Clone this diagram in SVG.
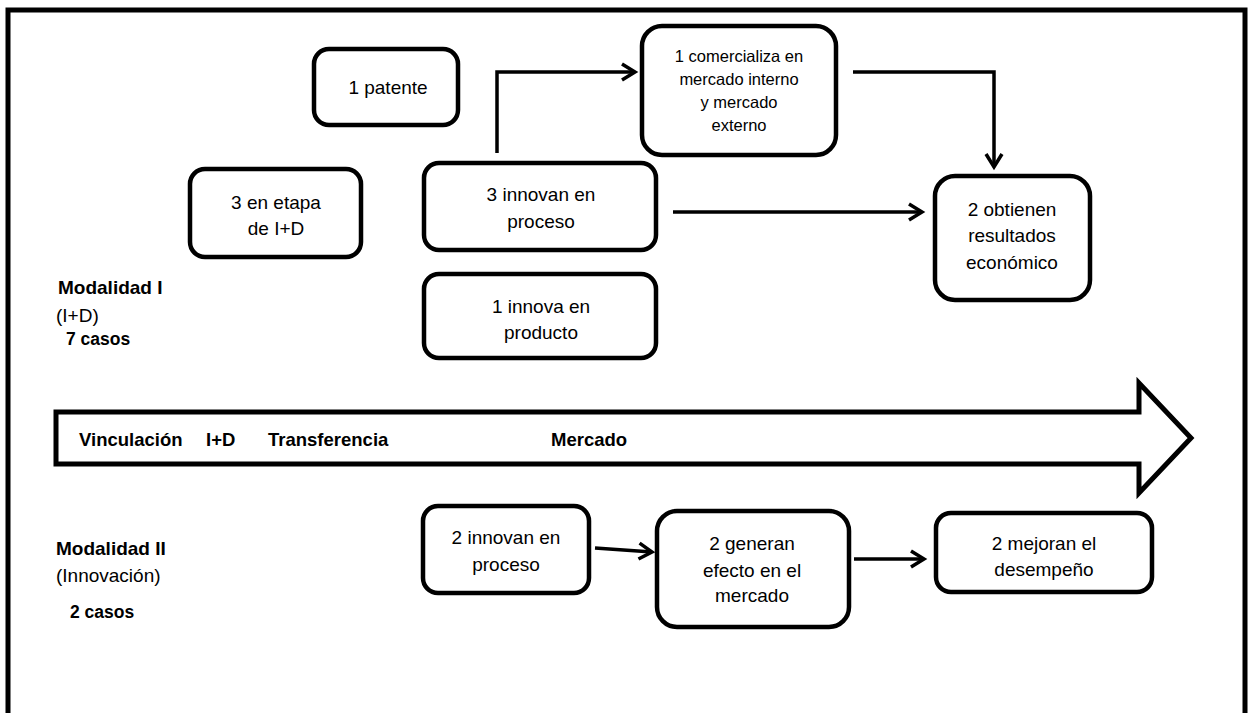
<svg xmlns="http://www.w3.org/2000/svg" width="1250" height="713" viewBox="0 0 1250 713">
<defs>
<marker id="ah" markerWidth="20" markerHeight="20" refX="16" refY="10" orient="auto" markerUnits="userSpaceOnUse">
<path d="M3,2 L16,10 L3,18" fill="none" stroke="#000" stroke-width="3.5"/>
</marker>
<style>
.box{fill:#fff;stroke:#000;stroke-width:4.5}
.t{font-family:"Liberation Sans",Arial,sans-serif;font-size:19px;fill:#000;text-anchor:middle;dominant-baseline:central}
.s{font-size:16.5px}
.l{font-family:"Liberation Sans",Arial,sans-serif;font-size:19px;fill:#000}
.a{font-size:18.5px}
.k{font-size:17.5px}
.b{font-weight:bold}
.c{fill:none;stroke:#000;stroke-width:3.5;marker-end:url(#ah)}
</style>
</defs>
<rect x="0" y="0" width="1250" height="713" fill="#fff"/>
<rect id="frame" x="8" y="10" width="1237" height="720" fill="none" stroke="#000" stroke-width="5"/>

<g id="bigarrow">
<path d="M56,412 L1139,412 L1139,383 L1191,438 L1139,493 L1139,464 L56,464 Z" fill="#fff" stroke="#000" stroke-width="5"/>
<text class="l a b" x="79" y="446">Vinculación</text>
<text class="l a b" x="206" y="446">I+D</text>
<text class="l a b" x="268" y="446">Transferencia</text>
<text class="l a b" x="551" y="446">Mercado</text>
</g>

<g id="labels1">
<text class="l b" x="58" y="294">Modalidad I</text>
<text class="l" x="56" y="322">(I+D)</text>
<text class="l k b" x="66" y="345">7 casos</text>
</g>
<g id="labels2">
<text class="l b" x="56" y="555">Modalidad II</text>
<text class="l" x="56" y="582">(Innovación)</text>
<text class="l k b" x="70" y="618">2 casos</text>
</g>

<g id="patente">
<rect class="box" x="314" y="49" width="144" height="76" rx="15"/>
<text class="t" x="388" y="87">1 patente</text>
</g>
<g id="etapa">
<rect class="box" x="190" y="169" width="171" height="88" rx="15"/>
<text class="t" x="276" y="202">3 en etapa</text>
<text class="t" x="276" y="228">de I+D</text>
</g>
<g id="innovan1">
<rect class="box" x="424" y="163" width="232" height="87" rx="15"/>
<text class="t" x="541" y="194">3 innovan en</text>
<text class="t" x="541" y="221">proceso</text>
</g>
<g id="producto">
<rect class="box" x="424" y="274" width="232" height="84" rx="15"/>
<text class="t" x="541" y="306">1 innova en</text>
<text class="t" x="541" y="332">producto</text>
</g>
<g id="comercializa">
<rect class="box" x="642" y="26" width="194" height="129" rx="20"/>
<text class="t s" x="739" y="56">1 comercializa en</text>
<text class="t s" x="739" y="79">mercado interno</text>
<text class="t s" x="739" y="102">y mercado</text>
<text class="t s" x="739" y="125">externo</text>
</g>
<g id="obtienen">
<rect class="box" x="935" y="176" width="155" height="124" rx="20"/>
<text class="t" x="1012" y="209">2 obtienen</text>
<text class="t" x="1012" y="235">resultados</text>
<text class="t" x="1012" y="262">económico</text>
</g>
<g id="innovan2">
<rect class="box" x="423" y="506" width="166" height="87" rx="15"/>
<text class="t" x="506" y="537">2 innovan en</text>
<text class="t" x="506" y="564">proceso</text>
</g>
<g id="generan">
<rect class="box" x="657" y="511" width="192" height="116" rx="20"/>
<text class="t" x="752" y="543">2 generan</text>
<text class="t" x="752" y="570">efecto en el</text>
<text class="t" x="752" y="595">mercado</text>
</g>
<g id="mejoran">
<rect class="box" x="936" y="513" width="216" height="79" rx="15"/>
<text class="t" x="1044" y="543">2 mejoran el</text>
<text class="t" x="1044" y="569">desempeño</text>
</g>

<g id="connectors">
<path class="c" d="M497,153 L497,72 L635,72"/>
<path class="c" d="M853,72 L994,72 L994,167"/>
<path class="c" d="M673,212 L922,212"/>
<path class="c" d="M595,548 L652,552"/>
<path class="c" d="M854,559 L924,559"/>
</g>
</svg>
